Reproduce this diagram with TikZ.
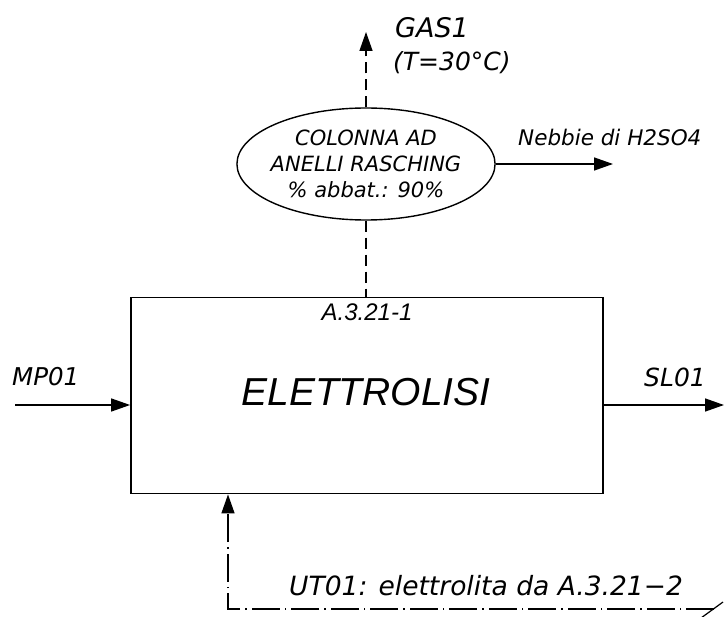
\documentclass[tikz,border=0pt]{standalone}
\usepackage{fontspec}
\setmainfont{DejaVu Sans}
\newfontfamily\arialfont{Liberation Sans}
\usetikzlibrary{arrows.meta, shapes.geometric, positioning, calc}

\begin{document}
\begin{tikzpicture}[x=1pt, y=-1pt, >={Triangle[length=19pt, width=13pt]},
    flow/.style={->, line width=1.4pt},
    gasline/.style={line width=1.4pt, dash pattern=on 11pt off 6pt},
    utline/.style={line width=1.4pt, dash pattern=on 28pt off 5pt on 1.5pt off 5pt},
    lbl/.style={inner sep=0pt, font=\itshape\fontsize{25}{28}\selectfont}]
    \useasboundingbox (0,0) rectangle (725,617);
    % process block
    \node[draw, line width=1.8pt, minimum width=472pt, minimum height=196pt] (elettro) at (367,395.5) {};
    \node[inner sep=0pt, font=\arialfont\itshape\fontsize{39}{39}\selectfont] (elettroname) at (366,392) {ELETTROLISI};
    \node[inner sep=0pt, font=\arialfont\itshape\fontsize{24}{24}\selectfont] (elettrocode) at (367,312) {A.3.21-1};
    % scrubber
    \node[draw, ellipse, line width=1.4pt, minimum width=258pt, minimum height=112pt,
        inner xsep=-4pt, inner ysep=2pt, align=center,
        font=\itshape\fontsize{21}{26}\selectfont] (colonna) at (366,164)
        {COLONNA AD\\ANELLI RASCHING\\\% abbat.: 90\%};
    % stream ends
    \coordinate (gastip) at (366,32);
    \coordinate (nebbietip) at (613,164);
    \coordinate (mpin) at (15,405);
    \coordinate (slout) at (724,405);
    \coordinate (utend) at (714,609);
    \coordinate (utcorner) at (228,609);
    % streams
    \draw[gasline, ->] (colonna.north) -- (gastip);
    \draw[gasline] (colonna.south) -- (colonna.south |- elettro.north);
    \draw[flow] (colonna.east) -- (nebbietip);
    \draw[flow] (mpin) -- (mpin -| elettro.west);
    \draw[flow] (slout -| elettro.east) -- (slout);
    \draw[utline, ->] (utend) -- (utcorner) -- (utcorner |- elettro.south);
    \draw[line width=1.2pt] ($(utend)+(-13,9)$) -- ($(utend)+(9,-7)$);
    % labels
    \node[lbl, anchor=west, font=\itshape\fontsize{27}{28}\selectfont] (gasname) at (395,28) {GAS1};
    \node[lbl, anchor=west] (gastemp) at (393,63) {(T=30°C)};
    \node[lbl, anchor=west, font=\itshape\fontsize{21.5}{26}\selectfont] (nebbielbl) at (518,137) {Nebbie di H2SO4};
    \node[lbl, anchor=west, font=\itshape\fontsize{24.5}{28}\selectfont] (mplbl) at (12,377) {MP01};
    \node[lbl, anchor=west] (sllbl) at (644,377) {SL01};
    \node[lbl, anchor=west, font=\itshape\fontsize{26.5}{28}\selectfont] (utlbl) at (289,586) {UT01: elettrolita da A.3.21−2};
\end{tikzpicture}
\end{document}
